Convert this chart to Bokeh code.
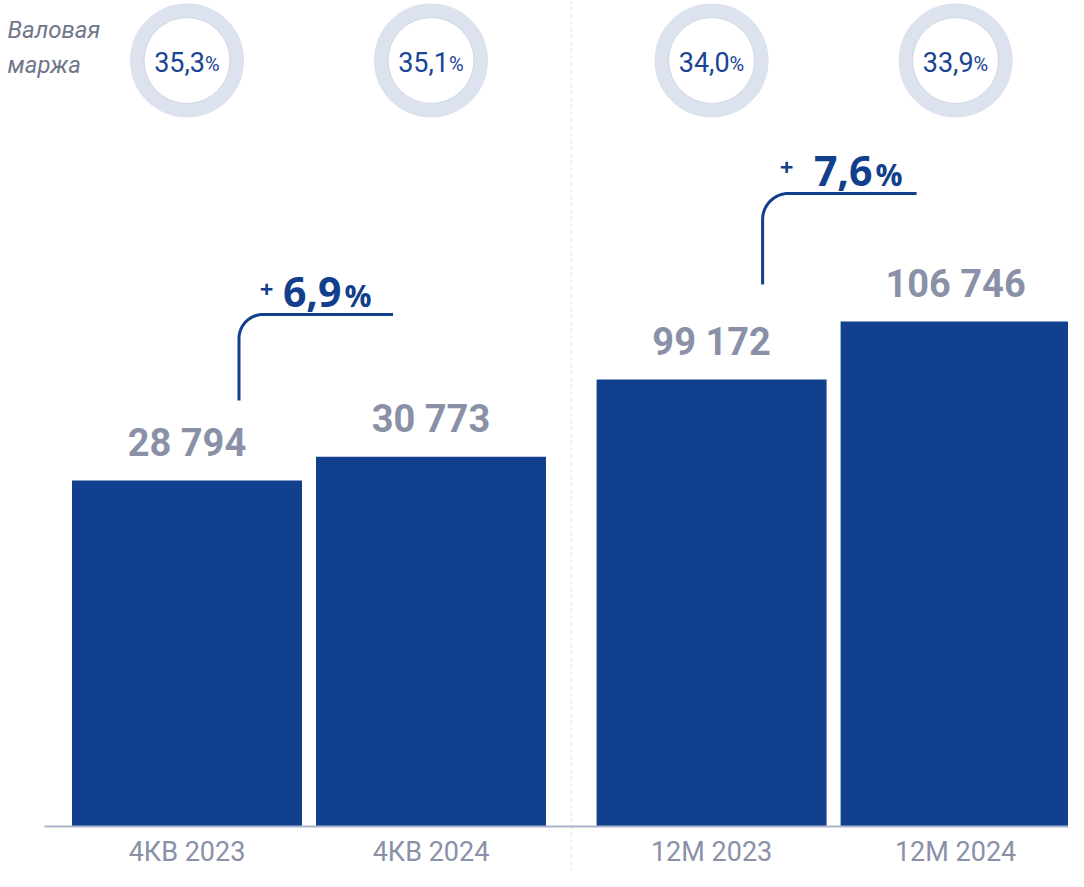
import numpy as np
from bokeh.plotting import figure
from bokeh.models import Range1d
from bokeh.core.properties import value
from bokeh.embed import file_html
from bokeh.resources import INLINE

# ---------------- data ----------------
categories = ["4КВ 2023", "4КВ 2024", "12М 2023", "12М 2024"]
quarter_values = [28794, 30773]
annual_values = [99172, 106746]
gross_margin = [35.3, 35.1, 34.0, 33.9]
growth = [6.9, 7.6]
margin_title = ["Валовая", "маржа"]

# ---------------- layout ----------------
W, H = 1068, 871
BASE = 45            # px from bottom of figure to baseline
PLOT_H = H - BASE    # px from baseline to top
SLOT = 244           # px per category slot
X0 = -186.5 / SLOT
GROUP_GAP = 0.15
BAR_W = 230 / SLOT
COMP = 0.33          # alphabetic-baseline compensation (fraction of font size)

L_TOP = 68740                    # value at top of frame, left group
R_BASE, R_TOP = 40800, 148664    # value range for right group
L_START = -BASE * L_TOP / PLOT_H
R_START = R_BASE - BASE * (R_TOP - R_BASE) / PLOT_H

BAR = "#11408f"
GREY = "#8a91a7"
BLUE = "#123f8c"

xs = [i + (GROUP_GAP if i >= 2 else 0) for i in range(len(categories))]

def to_px(x):
    return (x - X0) * SLOT

def fmt_int(v):
    return f"{v:,}".replace(",", " ")

def fmt_dec(v):
    return f"{v:.1f}".replace(".", ",")

p = figure(width=W, height=H, title=None,
           x_range=Range1d(X0, X0 + W / SLOT), y_range=Range1d(L_START, L_TOP),
           output_backend="svg", toolbar_location=None,
           x_axis_location=None, y_axis_location=None, min_border=0)
p.outline_line_color = None
p.grid.visible = False
p.background_fill_color = "white"
p.border_fill_color = "white"
p.extra_y_ranges = {"r": Range1d(R_START, R_TOP), "px": Range1d(-BASE, PLOT_H)}
p.extra_x_ranges = {"pxx": Range1d(0, W)}

# separator
sep = (xs[1] + xs[2]) / 2
p.segment(x0=[sep], y0=[-BASE], x1=[sep], y1=[PLOT_H], y_range_name="px",
          line_color="#e2e2e2", line_width=1, line_dash="4 3")

# bars
p.vbar(x=xs[:2], top=quarter_values, bottom=0, width=BAR_W,
       fill_color=BAR, line_color=None)
p.vbar(x=xs[2:], top=annual_values, bottom=R_BASE, width=BAR_W,
       fill_color=BAR, line_color=None, y_range_name="r")

# baseline
p.segment(x0=[44], y0=[0], x1=[W], y1=[0], x_range_name="pxx", y_range_name="px",
          line_color="#aab4cc", line_width=2)

# value labels
VFS = 38
label_kw = dict(text_align="center", text_baseline="alphabetic",
                text_font=value("Roboto"), text_font_style="bold",
                text_font_size=f"{VFS}px", text_color=GREY,
                y_offset=-(25 + COMP * VFS))
p.text(x=xs[:2], y=quarter_values, text=[fmt_int(v) for v in quarter_values], **label_kw)
p.text(x=xs[2:], y=annual_values, text=[fmt_int(v) for v in annual_values],
       y_range_name="r", **label_kw)

# category labels
CFS = 27
p.text(x=xs, y=[-34 + COMP * CFS] * 4, text=categories, y_range_name="px",
       text_align="center", text_baseline="alphabetic",
       text_font=value("Roboto"), text_font_size=f"{CFS}px", text_color=GREY)

# gross margin rings
CY = PLOT_H - 60
MFS, PFS = 27, 20
p.circle(x=xs, y=[CY] * 4, radius=50, radius_units="screen", y_range_name="px",
         fill_color="white", line_color="#dce2ee", line_width=14)
p.circle(x=xs, y=[CY] * 4, radius=43, radius_units="screen", y_range_name="px",
         fill_color=None, line_color="#cfd6e3", line_width=1)
p.text(x=xs, y=[CY] * 4, text=[fmt_dec(v) for v in gross_margin], y_range_name="px",
       x_offset=18, y_offset=10 - COMP * MFS, text_align="right", text_baseline="alphabetic",
       text_font=value("Roboto"), text_font_size=f"{MFS}px", text_color="#1a4494")
p.text(x=xs, y=[CY] * 4, text=["%"] * 4, y_range_name="px",
       x_offset=18, y_offset=10 - COMP * PFS, text_align="left", text_baseline="alphabetic",
       text_font=value("Roboto"), text_font_size=f"{PFS}px", text_color="#1a4494")

TFS = 24
p.text(x=[7, 7], y=[PLOT_H - 37 + COMP * TFS, PLOT_H - 72 + COMP * TFS], text=margin_title,
       x_range_name="pxx", y_range_name="px",
       text_align="left", text_baseline="alphabetic",
       text_font=value("Roboto"), text_font_style="italic",
       text_font_size=f"{TFS}px", text_color="#70768a")

# growth brackets
def bracket(xv, y_bottom, y_top, x_end, r):
    t = np.linspace(np.pi, np.pi / 2, 20)
    bx = [xv, xv] + list(xv + r + r * np.cos(t)) + [x_end]
    by = [y_bottom, y_top - r] + list(y_top - r + r * np.sin(t)) + [y_top]
    return bx, by

brackets = [
    (to_px(xs[0]) + 52, PLOT_H - 400, PLOT_H - 314, to_px(xs[1]) - 38, 24),
    (to_px(xs[2]) + 51, PLOT_H - 284, PLOT_H - 193, to_px(xs[3]) - 39, 26),
]
num_right = [341, 872]
num_base = [PLOT_H - 305, PLOT_H - 184]
plus_x = [266, 786]
plus_y = [PLOT_H - 289, PLOT_H - 167]
for i, (xv, yb, yt, xe, r) in enumerate(brackets):
    bx, by = bracket(xv, yb, yt, xe, r)
    p.line(bx, by, x_range_name="pxx", y_range_name="px",
           line_color=BLUE, line_width=3)
GFS, GPFS = 41, 30
p.text(x=num_right, y=[b + COMP * GFS for b in num_base], text=[fmt_dec(g) for g in growth],
       x_range_name="pxx", y_range_name="px", text_align="right",
       text_baseline="alphabetic", text_font=value("Open Sans"),
       text_font_style="bold", text_font_size=f"{GFS}px", text_color=BLUE)
p.text(x=[n + 3 for n in num_right], y=[b + COMP * GPFS for b in num_base], text=["%"] * 2,
       x_range_name="pxx", y_range_name="px", text_align="left",
       text_baseline="alphabetic", text_font=value("Open Sans"),
       text_font_style="bold", text_font_size=f"{GPFS}px", text_color=BLUE)
p.text(x=plus_x, y=plus_y, text=["+"] * 2,
       x_range_name="pxx", y_range_name="px", text_align="center",
       text_baseline="middle", text_font=value("Open Sans"),
       text_font_style="bold", text_font_size="24px", text_color=BLUE)

open("out.html", "w").write(file_html(p, INLINE))
